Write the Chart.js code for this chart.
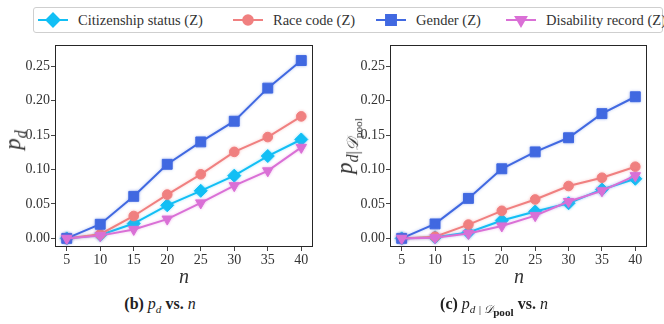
<!DOCTYPE html>
<html lang="en">
<head>
<meta charset="UTF-8">
<title>p_d vs. n</title>
<script src="https://cdn.jsdelivr.net/npm/chart.js"></script>
<style>
  body { margin: 0; background: #fff; }
  #wrap { position: relative; width: 664px; height: 324px; font-family: "Liberation Serif", "DejaVu Serif", serif; color: #222; }
  canvas.plot { position: absolute; top: 36px; }
  #legend { position: absolute; left: 33px; top: 7px; width: 628px; height: 24px; border: 1px solid #cfcfcf; border-radius: 3px; }
  .item { position: absolute; top: 0; height: 24px; display: flex; align-items: center; font-size: 14.5px; white-space: nowrap; color: #333; }
  .item canvas { margin-right: 10px; }
  .lbl { position: absolute; transform: translate(-50%, -50%); white-space: nowrap; font-style: italic; color: #333; }
  .ylab { transform: translate(-50%, -50%) rotate(-90deg); font-size: 23px; }
  .xlab { font-size: 20px; }
  .up { font-style: normal; }
  .cap { position: absolute; top: 295px; transform: translateX(-50%); font-size: 16px; font-weight: bold; white-space: nowrap; }
  .cap i { font-weight: normal; }
  .cap b { font-style: normal; }
  sub { font-size: 70%; }
  .cap sub sub { font-size: 100%; }
</style>
</head>
<body>
<div id="wrap">
  <div id="legend"></div>
  <canvas class="plot" id="pdChart" width="330" height="240" style="left:0"></canvas>
  <canvas class="plot" id="poolChart" width="329" height="240" style="left:335px"></canvas>
  <div class="lbl ylab" style="left:15px; top:140px"><i>p</i><sub><i>d</i></sub></div>
  <div class="lbl ylab" style="left:348px; top:146px"><i>p</i><sub><i>d</i><span class="up">|</span>𝒟<sub class="up">pool</sub></sub></div>
  <div class="lbl xlab" style="left:184px; top:276px">n</div>
  <div class="lbl xlab" style="left:519px; top:276px">n</div>
  <div class="cap" style="left:160px">(b) <i>p<sub>d</sub></i> vs. <i>n</i></div>
  <div class="cap" style="left:494px">(c) <i>p<sub>d | 𝒟<sub><b>pool</b></sub></sub></i> vs. <i>n</i></div>
</div>

<script>
// pool size
const nValues = [5, 10, 15, 20, 25, 30, 35, 40];
const yTickValues = [0, 0.05, 0.10, 0.15, 0.20, 0.25];

const seriesNames = ['Citizenship status (Z)', 'Race code (Z)', 'Gender (Z)', 'Disability record (Z)'];

// p_d
const pdCitizenship = [0, 0.005, 0.0215, 0.048, 0.069, 0.091, 0.1195, 0.1435];
const pdRace        = [0, 0.006, 0.0325, 0.0635, 0.093, 0.1255, 0.147, 0.177];
const pdGender      = [0, 0.0205, 0.061, 0.1075, 0.14, 0.17, 0.218, 0.258];
const pdDisability  = [0, 0.004, 0.013, 0.028, 0.0515, 0.0765, 0.098, 0.132];

// p_d | D_pool
const poolCitizenship = [0, 0.0015, 0.0085, 0.026, 0.039, 0.051, 0.071, 0.0865];
const poolRace        = [0, 0.0025, 0.02, 0.04, 0.0565, 0.076, 0.088, 0.104];
const poolGender      = [0, 0.021, 0.058, 0.101, 0.1255, 0.146, 0.181, 0.2055];
const poolDisability  = [0, 0.001, 0.007, 0.018, 0.033, 0.0535, 0.069, 0.091];

const styles = [
  { color: '#12BFF5', pointStyle: 'rectRot', radius: 6.5, rotation: 0 },
  { color: '#F08080', pointStyle: 'circle', radius: 4.8, rotation: 0 },
  { color: '#4169E1', pointStyle: 'rect', radius: 7, rotation: 0 },
  { color: '#DA70D6', pointStyle: 'triangle', radius: 6, rotation: 180 }
];

function makeDatasets(values) {
  return values.map((v, i) => ({
    label: seriesNames[i],
    data: v.map((y, j) => ({ x: nValues[j], y: y })),
    borderColor: styles[i].color,
    backgroundColor: styles[i].color,
    borderWidth: 2,
    pointStyle: styles[i].pointStyle,
    pointRadius: styles[i].radius,
    pointRotation: styles[i].rotation,
    pointBorderWidth: 1,
    tension: 0,
    order: 4 - i
  }));
}

// full box around the plot area
const framePlugin = {
  id: 'frame',
  afterDraw(chart) {
    const a = chart.chartArea, ctx = chart.ctx;
    ctx.save();
    ctx.strokeStyle = '#262626';
    ctx.lineWidth = 1;
    ctx.strokeRect(Math.round(a.left) + 0.5, Math.round(a.top) + 0.5,
      Math.round(a.right - a.left) - 1, Math.round(a.bottom - a.top) - 1);
    ctx.restore();
  }
};

// soft glow under the lines
const glowPlugin = {
  id: 'glow',
  beforeDatasetDraw(chart, args) {
    const ctx = chart.ctx;
    ctx.save();
    ctx.shadowColor = chart.data.datasets[args.index].borderColor + '66';
    ctx.shadowBlur = 3;
  },
  afterDatasetDraw(chart) {
    chart.ctx.restore();
  }
};

const tickFont = { family: '"Liberation Serif", "DejaVu Serif", serif', size: 14 };

function makeChart(id, values) {
  return new Chart(document.getElementById(id), {
    type: 'line',
    data: { datasets: makeDatasets(values) },
    plugins: [framePlugin, glowPlugin],
    options: {
      responsive: false,
      animation: false,
      layout: { padding: { top: 7, right: 17, left: 0, bottom: 0 } },
      plugins: { legend: { display: false }, tooltip: { enabled: false } },
      scales: {
        x: {
          type: 'linear',
          min: 3.25,
          max: 41.75,
          afterBuildTicks: s => { s.ticks = nValues.map(v => ({ value: v })); },
          afterFit: s => { s.height = 29; },
          grid: { drawOnChartArea: false, drawTicks: true, tickLength: 4, tickColor: '#444' },
          border: { display: false },
          ticks: { font: tickFont, color: '#333', padding: 1, maxRotation: 0 }
        },
        y: {
          type: 'linear',
          min: -0.0125,
          max: 0.28,
          afterBuildTicks: s => { s.ticks = yTickValues.map(v => ({ value: v })); },
          afterFit: s => { s.width = 55; },
          grid: { drawOnChartArea: false, drawTicks: true, tickLength: 4, tickColor: '#444' },
          border: { display: false },
          ticks: { font: tickFont, color: '#333', padding: 1, callback: v => v.toFixed(2) }
        }
      }
    }
  });
}

makeChart('pdChart', [pdCitizenship, pdRace, pdGender, pdDisability]);
makeChart('poolChart', [poolCitizenship, poolRace, poolGender, poolDisability]);

// shared legend
const legendLeft = [4, 199, 342, 472];
const legend = document.getElementById('legend');
seriesNames.forEach((name, i) => {
  const item = document.createElement('div');
  item.className = 'item';
  item.style.left = legendLeft[i] + 'px';
  const c = document.createElement('canvas');
  c.width = 30; c.height = 16;
  const ctx = c.getContext('2d');
  ctx.strokeStyle = styles[i].color;
  ctx.fillStyle = styles[i].color;
  ctx.lineWidth = 2;
  ctx.beginPath(); ctx.moveTo(0, 8); ctx.lineTo(30, 8); ctx.stroke();
  Chart.helpers.drawPoint(ctx, {
    pointStyle: styles[i].pointStyle, radius: styles[i].radius,
    rotation: styles[i].rotation, borderWidth: 1
  }, 15, 8);
  item.appendChild(c);
  const t = document.createElement('span');
  t.textContent = name;
  item.appendChild(t);
  legend.appendChild(item);
});
</script>
</body>
</html>
